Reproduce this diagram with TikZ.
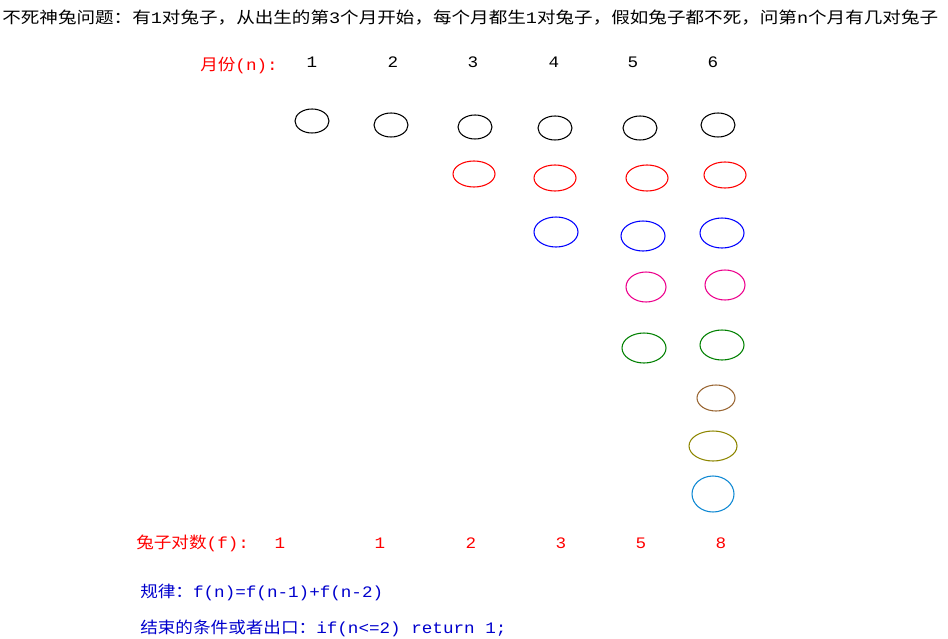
\documentclass[tikz,border=0pt]{standalone}
\usepackage{fontspec}
\setmainfont{Noto Sans CJK SC}
\setmonofont{Liberation Mono}
\newcommand{\m}[1]{{\ttfamily #1}}
\begin{document}
\begin{tikzpicture}[x=0.75pt,y=-0.75pt,
  txt/.style={inner sep=0pt,font=\fontsize{12pt}{13pt}\selectfont,xscale=1.1,transform shape},
  redtxt/.style={text=red},
  blutxt/.style={text=blue!80!black},
  el/.style={draw,line width=0.8pt}]
\useasboundingbox (0,0) rectangle (948,638);
\node[txt,xscale=1.055,anchor=west] (title) at (2,18) {不死神兔问题：有\m{1}对兔子，从出生的第\m{3}个月开始，每个月都生\m{1}对兔子，假如兔子都不死，问第\m{n}个月有几对兔子};
\node[txt,redtxt,anchor=west] (mh) at (200,65) {月份\m{(n):}};
\foreach \x/\n [count=\i] in {312/1,393/2,473/3,554/4,633/5,713/6}
  \node[txt] (m\i) at (\x,62) {\m{\n}};
\foreach \x/\y [count=\i] in {312/121,391/125,475/127,555/128,640/128,718/125}
  \draw[el,draw=black] (\x,\y) ellipse [x radius=17,y radius=12];
\foreach \x/\y in {474/174,555/178,647/178,725/175}
  \draw[el,draw=red] (\x,\y) ellipse [x radius=21,y radius=13];
\foreach \x/\y in {556/232,643/236,722/233}
  \draw[el,draw=blue] (\x,\y) ellipse [x radius=22,y radius=15];
\foreach \x/\y in {646/287,725/285}
  \draw[el,draw=magenta] (\x,\y) ellipse [x radius=20,y radius=15];
\foreach \x/\y in {644/348,722/345}
  \draw[el,draw=green!50!black] (\x,\y) ellipse [x radius=22,y radius=15];
\draw[el,draw=brown!80!black] (716,398) ellipse [x radius=19,y radius=13];
\draw[el,draw=olive] (713,446) ellipse [x radius=24,y radius=15];
\draw[el,draw=cyan!70!blue] (713,494) ellipse [x radius=21,y radius=18];
\node[txt,redtxt,anchor=west] (fh) at (136,543) {兔子对数\m{(f):}};
\foreach \x/\n [count=\i] in {280/1,380/1,471/2,561/3,641/5,721/8}
  \node[txt,redtxt] (f\i) at (\x,543) {\m{\n}};
\node[txt,blutxt,anchor=west] (rule) at (140,592) {规律：\m{f(n)=f(n-1)+f(n-2)}};
\node[txt,blutxt,anchor=west] (stop) at (140,628) {结束的条件或者出口：\m{if(n<=2) return 1;}};
\end{tikzpicture}
\end{document}
